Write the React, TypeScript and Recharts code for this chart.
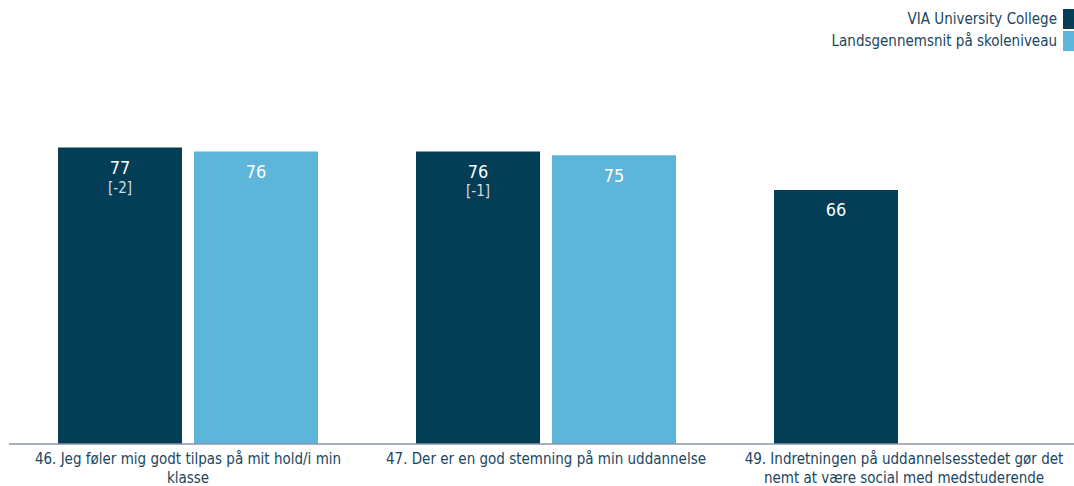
import React from 'react';
import { Bar, BarChart, LabelList, XAxis, YAxis } from 'recharts';

// question labels (line breaks as in the original)
const categories = [
    '46. Jeg føler mig godt tilpas på mit hold/i min\nklasse',
    '47. Der er en god stemning på min uddannelse',
    '49. Indretningen på uddannelsesstedet gør det\nnemt at være social med medstuderende',
];
const viaValues = [77, 76, 66];
const nationalValues = [76, 75, null];
const viaDiffs = ['[-2]', '[-1]', null];

const seriesNames = ['VIA University College', 'Landsgennemsnit på skoleniveau'];
const DARK = '#033d56';
const LIGHT = '#5eb5da';
const TEXT = '#1a4660';
const FONT = '"DejaVu Sans Condensed", "DejaVu Sans", sans-serif';

const data = categories.map((name, i) => ({
    name,
    via: viaValues[i],
    national: nationalValues[i],
    diff: viaDiffs[i],
}));

const WrappedTick = ({ x, y, payload }: any) => {
    const lines = String(payload.value).split('\n');
    return (
        <text x={x} y={y} textAnchor="middle" fill={TEXT} fontSize={15} fontFamily={FONT}>
            {lines.map((line, i) => (
                <tspan key={i} x={x} dy={i === 0 ? 12 : 19}>
                    {line}
                </tspan>
            ))}
        </text>
    );
};

const ValueLabel = ({ x, y, width, value }: any) => {
    if (value == null) return null;
    return (
        <text
            x={x + width / 2}
            y={y + 20}
            fill="#ffffff"
            fontSize={18}
            fontFamily={FONT}
            textAnchor="middle"
            dominantBaseline="central"
        >
            {value}
        </text>
    );
};

const DiffLabel = ({ x, y, width, value }: any) => {
    if (value == null) return null;
    return (
        <text
            x={x + width / 2}
            y={y + 40}
            fill="#d6dde2"
            fontSize={15}
            fontFamily={FONT}
            textAnchor="middle"
            dominantBaseline="central"
        >
            {value}
        </text>
    );
};

const LegendBox = () => (
    <div
        style={{
            position: 'absolute',
            top: 8,
            right: 0,
            fontFamily: FONT,
            fontSize: 15,
            color: TEXT,
            textAlign: 'right',
        }}
    >
        {seriesNames.map((name, i) => (
            <div
                key={name}
                style={{
                    display: 'flex',
                    alignItems: 'center',
                    justifyContent: 'flex-end',
                    height: 22,
                }}
            >
                <span style={{ marginRight: 6, whiteSpace: 'nowrap' }}>{name}</span>
                <span
                    style={{
                        display: 'inline-block',
                        flexShrink: 0,
                        width: 11,
                        height: 20,
                        background: i === 0 ? DARK : LIGHT,
                    }}
                />
            </div>
        ))}
    </div>
);

export default function App() {
    return (
        <div
            style={{
                position: 'fixed',
                top: 0,
                left: 0,
                width: 1074,
                height: 486,
                overflow: 'hidden',
                background: '#fff',
            }}
        >
            <BarChart
                width={1083}
                height={486}
                data={data}
                margin={{ top: 59, right: 0, left: 9, bottom: 0 }}
                barSize={124}
                barGap={12}
            >
                <YAxis hide domain={[0, 100]} />
                <XAxis
                    dataKey="name"
                    height={42}
                    tickLine={false}
                    axisLine={{ stroke: '#8a96a3', strokeWidth: 1.5 }}
                    tick={<WrappedTick />}
                    interval={0}
                />
                <Bar dataKey="via" fill={DARK} isAnimationActive={false}>
                    <LabelList dataKey="via" content={<ValueLabel />} />
                    <LabelList dataKey="diff" content={<DiffLabel />} />
                </Bar>
                <Bar dataKey="national" fill={LIGHT} isAnimationActive={false}>
                    <LabelList dataKey="national" content={<ValueLabel />} />
                </Bar>
            </BarChart>
            <LegendBox />
        </div>
    );
}
